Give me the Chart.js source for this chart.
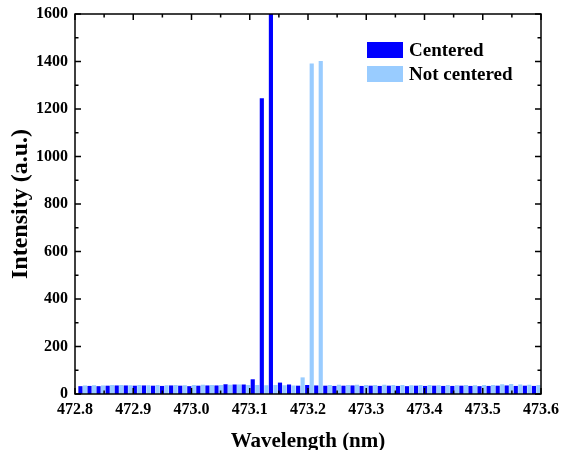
<!DOCTYPE html>
<html>
<head>
<meta charset="utf-8">
<script src="https://cdn.jsdelivr.net/npm/chart.js@4.4.1/dist/chart.umd.min.js"></script>
<style>
  html, body { margin: 0; padding: 0; background: #fff; }
  #wrap { position: relative; width: 561px; height: 450px; overflow: hidden; }
  #legend { position: absolute; left: 367px; top: 42px; font-family: "Liberation Serif", "Times New Roman", serif; font-weight: bold; font-size: 19px; color: #000; }
  .row { display: flex; align-items: center; height: 16px; margin-bottom: 8px; white-space: nowrap; }
  .box { width: 36px; height: 16px; display: inline-block; margin-right: 6px; }
  .row span.t { line-height: 16px; }
</style>
</head>
<body>
<div id="wrap">
  <canvas id="c" width="561" height="450"></canvas>
  <div id="legend"></div>
</div>
<script>
const wavelengths = [
  472.8132, 472.8288, 472.8443, 472.8599, 472.8755, 472.8911, 472.9066, 472.9222, 472.9378, 472.9533,
  472.9689, 472.9845, 473.0001, 473.0156, 473.0312, 473.0468, 473.0623, 473.0779, 473.0935, 473.1090,
  473.1246, 473.1402, 473.1558, 473.1713, 473.1869, 473.2025, 473.2180, 473.2336, 473.2492, 473.2648,
  473.2803, 473.2959, 473.3115, 473.3270, 473.3426, 473.3582, 473.3738, 473.3893, 473.4049, 473.4205,
  473.4360, 473.4516, 473.4672, 473.4828, 473.4983, 473.5139, 473.5295, 473.5450, 473.5606, 473.5762,
  473.5918
];
const centered = [
  33, 34, 33, 35, 36, 36, 35, 36, 35, 34,
  36, 35, 33, 35, 36, 36, 41, 40, 40, 62,
  1245, 1720, 48, 40, 35, 38, 36, 35, 34, 35,
  36, 34, 35, 34, 35, 34, 33, 35, 34, 35,
  34, 34, 35, 34, 33, 34, 35, 36, 34, 35,
  34
];
const notCentered = [
  36, 37, 36, 38, 38, 37, 38, 37, 38, 37,
  38, 37, 38, 39, 38, 38, 39, 40, 38, 38,
  37, 38, 37, 36, 70, 1392, 1402, 38, 39, 38,
  39, 38, 38, 39, 38, 38, 37, 38, 38, 37,
  38, 37, 38, 37, 38, 38, 41, 42, 40, 39,
  38
];
const seriesNames = ['Centered', 'Not centered'];
const seriesColors = ['#0000FF', '#99CCFF'];
const xTickValues = [472.8, 472.9, 473.0, 473.1, 473.2, 473.3, 473.4, 473.5, 473.6];
const xTickLabels = ['472.8', '472.9', '473.0', '473.1', '473.2', '473.3', '473.4', '473.5', '473.6'];
const yTickValues = [0, 200, 400, 600, 800, 1000, 1200, 1400, 1600];
const yTickLabels = ['0', '200', '400', '600', '800', '1000', '1200', '1400', '1600'];
const xTitle = 'Wavelength (nm)';
const yTitle = 'Intensity (a.u.)';

const FONT = '"Liberation Serif", "Times New Roman", serif';

const framePlugin = {
  id: 'frame',
  afterDatasetsDraw(chart) {
    const ctx = chart.ctx;
    const a = chart.chartArea;
    const xs = chart.scales.x, ys = chart.scales.y;
    ctx.save();
    ctx.strokeStyle = '#000';
    ctx.lineWidth = 1.5;
    const major = 6, minor = 3.5;
    ctx.beginPath();
    xTickValues.forEach((v, i) => {
      const p = xs.getPixelForValue(v);
      ctx.moveTo(p, a.bottom); ctx.lineTo(p, a.bottom - major);
      ctx.moveTo(p, a.top); ctx.lineTo(p, a.top + major);
      if (i < xTickValues.length - 1) {
        const m = xs.getPixelForValue((v + xTickValues[i + 1]) / 2);
        ctx.moveTo(m, a.bottom); ctx.lineTo(m, a.bottom - minor);
        ctx.moveTo(m, a.top); ctx.lineTo(m, a.top + minor);
      }
    });
    yTickValues.forEach((v, i) => {
      const p = ys.getPixelForValue(v);
      ctx.moveTo(a.left, p); ctx.lineTo(a.left + major, p);
      ctx.moveTo(a.right, p); ctx.lineTo(a.right - major, p);
      if (i < yTickValues.length - 1) {
        const m = ys.getPixelForValue((v + yTickValues[i + 1]) / 2);
        ctx.moveTo(a.left, m); ctx.lineTo(a.left + minor, m);
        ctx.moveTo(a.right, m); ctx.lineTo(a.right - minor, m);
      }
    });
    ctx.stroke();
    ctx.strokeRect(a.left, a.top, a.right - a.left, a.bottom - a.top);
    ctx.restore();
  }
};

const chart = new Chart(document.getElementById('c'), {
  type: 'bar',
  data: {
    datasets: [
      { label: seriesNames[0], data: wavelengths.map((x, i) => ({ x, y: centered[i] })), backgroundColor: seriesColors[0], borderWidth: 0 },
      { label: seriesNames[1], data: wavelengths.map((x, i) => ({ x, y: notCentered[i] })), backgroundColor: seriesColors[1], borderWidth: 0 }
    ]
  },
  options: {
    responsive: false,
    animation: false,
    devicePixelRatio: 1,
    categoryPercentage: 1.0,
    barPercentage: 0.92,
    layout: { padding: { top: 14, right: 20, left: 0, bottom: 0 } },
    plugins: { legend: { display: false }, tooltip: { enabled: false } },
    scales: {
      x: {
        type: 'linear',
        min: 472.8, max: 473.6,
        offset: false,
        grid: { display: false, drawTicks: false },
        border: { display: false },
        afterBuildTicks: (s) => { s.ticks = xTickValues.map(v => ({ value: v })); },
        afterFit: (s) => { s.height = 56; s.paddingLeft = 0; s.paddingRight = 0; },
        ticks: {
          autoSkip: false, maxRotation: 0, padding: 6, color: '#000',
          font: { family: FONT, size: 16, weight: 'bold' },
          callback: (v, i) => xTickLabels[i]
        },
        title: {
          display: true, text: xTitle, color: '#000',
          font: { family: FONT, size: 21, weight: 'bold' },
          padding: { top: 0, bottom: -4 }
        }
      },
      y: {
        min: 0, max: 1600,
        grid: { display: false, drawTicks: false },
        border: { display: false },
        afterBuildTicks: (s) => { s.ticks = yTickValues.map(v => ({ value: v })); },
        afterFit: (s) => { s.width = 75; s.paddingTop = 0; s.paddingBottom = 0; },
        ticks: {
          padding: 7, color: '#000',
          font: { family: FONT, size: 16, weight: 'bold' },
          callback: (v, i) => yTickLabels[i]
        },
        title: {
          display: true, text: yTitle, color: '#000',
          font: { family: FONT, size: 24, weight: 'bold' },
          padding: { top: 6, bottom: 0 }
        }
      }
    }
  },
  plugins: [framePlugin]
});

const leg = document.getElementById('legend');
seriesNames.forEach((name, i) => {
  const row = document.createElement('div');
  row.className = 'row';
  const b = document.createElement('span');
  b.className = 'box';
  b.style.background = seriesColors[i];
  const t = document.createElement('span');
  t.className = 't';
  t.textContent = name;
  row.appendChild(b); row.appendChild(t);
  leg.appendChild(row);
});
</script>
</body>
</html>
